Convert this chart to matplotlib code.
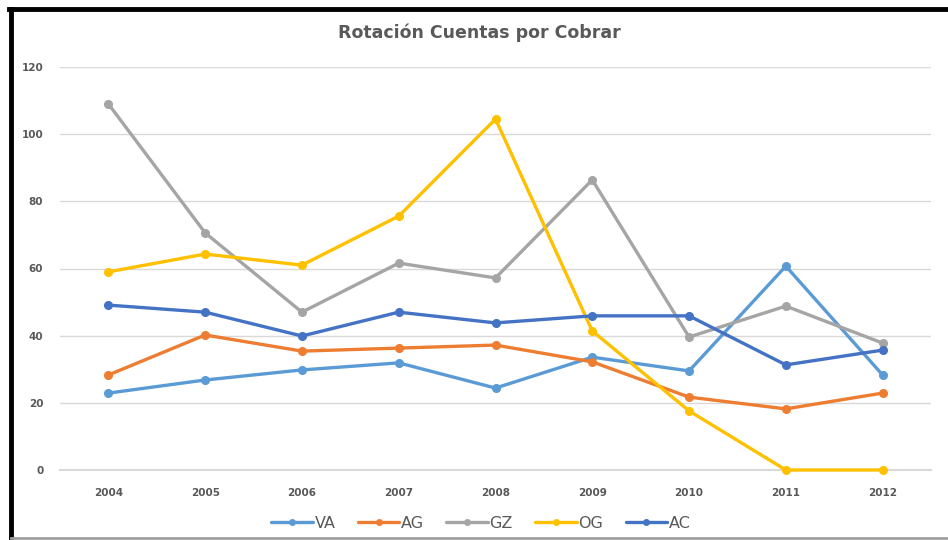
import matplotlib.pyplot as plt
from matplotlib.lines import Line2D

# data
years = ['2004', '2005', '2006', '2007', '2008', '2009', '2010', '2011', '2012']
va = [22.9, 26.8, 29.8, 31.9, 24.4, 33.6, 29.5, 60.7, 28.3]
ag = [28.3, 40.2, 35.4, 36.3, 37.2, 32.2, 21.7, 18.2, 22.9]
gz = [109.0, 70.6, 47.0, 61.6, 57.2, 86.4, 39.6, 48.8, 37.8]
og = [59.0, 64.3, 61.0, 75.6, 104.5, 41.4, 17.6, 0.0, 0.0]
ac = [49.1, 47.0, 39.9, 47.0, 43.8, 45.9, 45.9, 31.3, 35.7]

series = [('VA', va, '#5B9BD5'), ('AG', ag, '#ED7D31'), ('GZ', gz, '#A5A5A5'),
          ('OG', og, '#FFC000'), ('AC', ac, '#4472C4')]

plt.rcParams['font.family'] = ['DejaVu Sans']

fig = plt.figure(figsize=(9.48, 5.4), dpi=100)
ax = fig.add_axes([60/948, 70/540, 871/948, 403/540])

x = list(range(len(years)))
for name, vals, col in series:
    ax.plot(x, vals, color=col, linewidth=2.4, marker='o', markersize=5.5, label=name,
            solid_capstyle='round', clip_on=False, zorder=3)

ax.set_xlim(-0.5, len(years) - 0.5)
ax.set_ylim(0, 120)
ax.set_yticks(range(0, 121, 20))
ax.set_xticks(x)
ax.set_xticklabels(years)
ax.grid(axis='y', color='#D9D9D9', linewidth=1)
ax.axhline(0, color='#D9D9D9', linewidth=1.5, clip_on=False, zorder=1)
ax.set_axisbelow(True)
for s in ax.spines.values():
    s.set_visible(False)
ax.tick_params(length=0, colors='#595959', labelsize=7.5)
ax.tick_params(axis='y', pad=12)
ax.tick_params(axis='x', pad=13)
for lab in ax.get_xticklabels() + ax.get_yticklabels():
    lab.set_fontweight('bold')

fig.text(479/948, 1 - 33/540, 'Rotación Cuentas por Cobrar', ha='center', va='center',
         fontsize=12.5, fontweight='bold', color='#595959')

leg = fig.legend(loc='center', bbox_to_anchor=(481/948, 1 - 523/540), ncol=5, frameon=False,
                 fontsize=11.5, handlelength=2.6, columnspacing=1.4, handletextpad=0.1,
                 labelcolor='#595959')
for h in leg.legend_handles:
    h.set_markersize(4)

# outer frame like the screenshot
fig.add_artist(Line2D([11/948, 11/948], [0, 1 - 9/540], color='black', linewidth=3.5,
                      transform=fig.transFigure))
fig.add_artist(Line2D([9/948, 1], [1 - 9/540, 1 - 9/540], color='black', linewidth=3.5,
                      transform=fig.transFigure))
fig.add_artist(Line2D([11/948, 1], [2/540, 2/540], color='#A0A0A0', linewidth=2,
                      transform=fig.transFigure))

fig.savefig('out.png', dpi=100)
